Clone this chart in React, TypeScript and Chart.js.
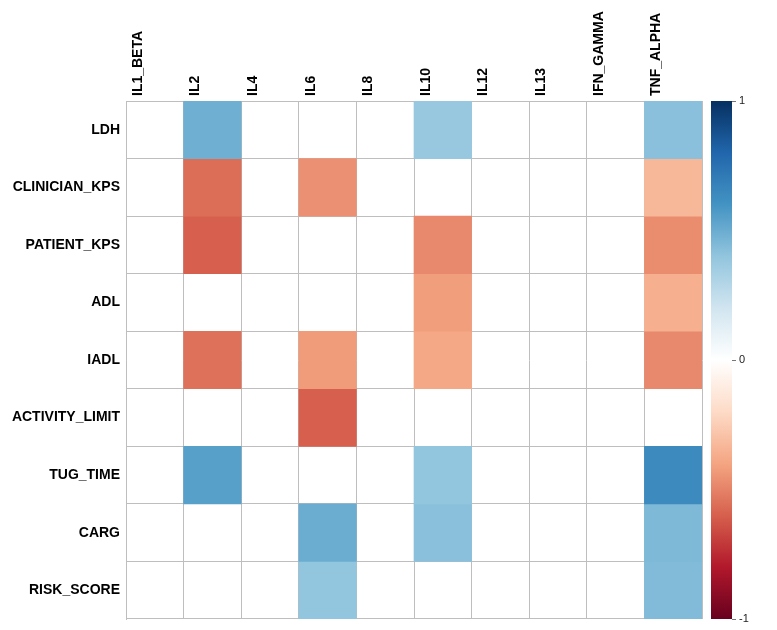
import React, { useEffect, useRef } from 'react';
import { Chart, registerables } from 'chart.js';
Chart.register(...registerables);

const columns = ['IL1_BETA', 'IL2', 'IL4', 'IL6', 'IL8', 'IL10', 'IL12', 'IL13', 'IFN_GAMMA', 'TNF_ALPHA'];
const rows = ['LDH', 'CLINICIAN_KPS', 'PATIENT_KPS', 'ADL', 'IADL', 'ACTIVITY_LIMIT', 'TUG_TIME', 'CARG', 'RISK_SCORE'];

// correlation values per row (0 = not shown / blank)
const ldh = [0, 0.49, 0, 0, 0, 0.38, 0, 0, 0, 0.42];
const clinicianKps = [0, -0.56, 0, -0.46, 0, 0, 0, 0, 0, -0.33];
const patientKps = [0, -0.6, 0, 0, 0, -0.48, 0, 0, 0, -0.47];
const adl = [0, 0, 0, 0, 0, -0.42, 0, 0, 0, -0.36];
const iadl = [0, -0.55, 0, -0.43, 0, -0.39, 0, 0, 0, -0.48];
const activityLimit = [0, 0, 0, -0.6, 0, 0, 0, 0, 0, 0];
const tugTime = [0, 0.55, 0, 0, 0, 0.4, 0, 0, 0, 0.64];
const carg = [0, 0, 0, 0.5, 0, 0.42, 0, 0, 0, 0.45];
const riskScore = [0, 0, 0, 0.4, 0, 0, 0, 0, 0, 0.44];
const matrix = [ldh, clinicianKps, patientKps, adl, iadl, activityLimit, tugTime, carg, riskScore];

const colorbarTicks = [-1, 0, 1];
const palette = ['#67001F', '#B2182B', '#D6604D', '#F4A582', '#FDDBC7', '#FFFFFF', '#D1E5F0', '#92C5DE', '#4393C3', '#2166AC', '#053061'];

function hexToRgb(h: string) {
  const n = parseInt(h.slice(1), 16);
  return [(n >> 16) & 255, (n >> 8) & 255, n & 255];
}
function colorFor(v: number) {
  const t = Math.max(0, Math.min(1, (v + 1) / 2)) * (palette.length - 1);
  const i = Math.min(palette.length - 2, Math.floor(t));
  const f = t - i;
  const a = hexToRgb(palette[i]);
  const b = hexToRgb(palette[i + 1]);
  const c = a.map((x, k) => Math.round(x + (b[k] - x) * f));
  return `rgb(${c[0]},${c[1]},${c[2]})`;
}

const FONT = "'Liberation Sans', Arial, Helvetica, sans-serif";
const GRID = '#bebebe';

export default function App() {
  const mainRef = useRef<HTMLCanvasElement>(null);
  const barRef = useRef<HTMLCanvasElement>(null);

  useEffect(() => {
    const n = rows.length;
    const main = new Chart(mainRef.current!, {
      type: 'bar',
      data: {
        labels: columns,
        datasets: rows.map((r, i) => ({
          label: r,
          data: matrix[i].map((v) => (v === 0 ? null : [n - i - 1, n - i])) as any,
          backgroundColor: matrix[i].map(colorFor),
          borderWidth: 0,
          grouped: false,
          barPercentage: 1,
          categoryPercentage: 1,
          xAxisID: 'x',
          yAxisID: 'y',
        })),
      },
      options: {
        responsive: false,
        animation: false,
        layout: { padding: { left: 0, right: 67, top: 0, bottom: 3 } },
        plugins: { legend: { display: false }, tooltip: { enabled: false } },
        scales: {
          x: {
            type: 'category',
            position: 'top',
            offset: true,
            z: 1,
            grid: { offset: true, color: GRID, drawTicks: false },
            border: { color: GRID },
            ticks: {
              minRotation: 90,
              maxRotation: 90,
              autoSkip: false,
              padding: 5,
              color: '#000',
              font: { family: FONT, size: 14, weight: 'bold' },
            },
            afterFit: (s: any) => { s.height = 93; s.paddingLeft = 0; s.paddingRight = 0; },
          },
          y: { type: 'linear', min: 0, max: n, display: false },
          yLab: {
            type: 'category',
            labels: rows,
            position: 'left',
            offset: true,
            z: 1,
            grid: { offset: true, color: GRID, drawTicks: false },
            border: { color: GRID },
            ticks: {
              autoSkip: false,
              padding: 6,
              color: '#000',
              font: { family: FONT, size: 14, weight: 'bold' },
            },
            afterFit: (s: any) => { s.width = 118; s.paddingTop = 0; s.paddingBottom = 0; },
          },
        } as any,
      },
    });

    const bar = new Chart(barRef.current!, {
      type: 'bar',
      data: {
        labels: [''],
        datasets: [{
          data: [[colorbarTicks[0], colorbarTicks[colorbarTicks.length - 1]]] as any,
          backgroundColor: (ctx: any) => {
            const a = ctx.chart.chartArea;
            if (!a) return palette[5];
            const g = ctx.chart.ctx.createLinearGradient(0, a.bottom, 0, a.top);
            palette.forEach((c, i) => g.addColorStop(i / (palette.length - 1), c));
            return g;
          },
          borderWidth: 0,
          barPercentage: 1,
          categoryPercentage: 1,
        }],
      },
      options: {
        responsive: false,
        animation: false,
        layout: { padding: { left: 0, right: 0, top: 93, bottom: 3 } },
        plugins: { legend: { display: false }, tooltip: { enabled: false } },
        scales: {
          x: { display: false, offset: true },
          y: {
            position: 'right',
            min: -1,
            max: 1,
            afterBuildTicks: (s: any) => { s.ticks = colorbarTicks.map((v) => ({ value: v })); },
            ticks: { padding: 3, color: '#222', font: { family: FONT, size: 11 } },
            grid: { drawOnChartArea: false, drawTicks: true, tickLength: 4, color: '#777' },
            border: { display: false },
            afterFit: (s: any) => { s.width = 30; s.paddingTop = 0; s.paddingBottom = 0; },
          },
        } as any,
      },
    });

    return () => { main.destroy(); bar.destroy(); };
  }, []);

  return (
    <div style={{ position: 'relative', width: 761, height: 614 }}>
      <canvas ref={mainRef} width={761} height={614} style={{ position: 'absolute', left: 0, top: 0, width: 761, height: 614 }} />
      <canvas ref={barRef} width={51} height={614} style={{ position: 'absolute', left: 703, top: 0, width: 51, height: 614 }} />
    </div>
  );
}
